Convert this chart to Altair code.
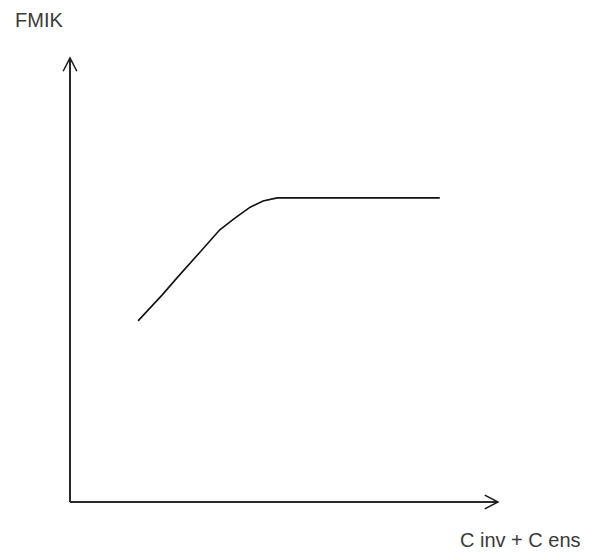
import altair as alt
import pandas as pd

# Curve (data units, axis origin at 0,0; axes run 0..10)
curve_x = [1.59, 2.15, 2.52, 3.04, 3.50, 3.86, 4.21, 4.51, 4.84, 8.64]
curve_y = [4.08, 4.66, 5.07, 5.63, 6.13, 6.40, 6.64, 6.78, 6.85, 6.85]

# Axis arrows
axis_x = [0, 0]
axis_y = [0, 0]
axis_x2 = [0, 10]
axis_y2 = [10, 0]
arrow_angle = [0, 90]

# Labels
label_text = ["FMIK", "C inv + C ens"]
label_x = [-1.285, 10.52]
label_y = [10.83, -0.88]
label_align = ["left", "center"]

curve_df = pd.DataFrame({"x": curve_x, "y": curve_y})
axes_df = pd.DataFrame({"x": axis_x, "y": axis_y, "x2": axis_x2, "y2": axis_y2,
                        "angle": arrow_angle})
lab_df = pd.DataFrame({"t": label_text, "x": label_x, "y": label_y, "a": label_align})

xs = alt.Scale(domain=[0, 10], nice=False, zero=False)
ys = alt.Scale(domain=[0, 10], nice=False, zero=False)

axes = alt.Chart(axes_df).mark_rule(color="#2a2a2a", strokeWidth=2).encode(
    x=alt.X("x:Q", scale=xs, axis=None),
    y=alt.Y("y:Q", scale=ys, axis=None),
    x2="x2:Q",
    y2="y2:Q",
)

arrows = alt.Chart(axes_df).mark_point(
    shape="M-0.52,1L0,0L0.52,1", size=700, filled=False,
    color="#1a1a1a", strokeWidth=1.5, opacity=1
).encode(
    x=alt.X("x2:Q", scale=xs, axis=None),
    y=alt.Y("y2:Q", scale=ys, axis=None),
    angle=alt.Angle("angle:Q", scale=None),
)

curve = alt.Chart(curve_df).mark_line(color="#111111", strokeWidth=1.6).encode(
    x=alt.X("x:Q", scale=xs, axis=None),
    y=alt.Y("y:Q", scale=ys, axis=None),
)

labels_left = alt.Chart(lab_df[lab_df.a == "left"]).mark_text(
    align="left", baseline="middle", font="Liberation Sans", fontSize=20,
    color="#3a3a3a"
).encode(
    x=alt.X("x:Q", scale=xs, axis=None),
    y=alt.Y("y:Q", scale=ys, axis=None),
    text="t:N",
)

labels_center = alt.Chart(lab_df[lab_df.a == "center"]).mark_text(
    align="center", baseline="middle", font="Liberation Sans", fontSize=20,
    color="#3a3a3a"
).encode(
    x=alt.X("x:Q", scale=xs, axis=None),
    y=alt.Y("y:Q", scale=ys, axis=None),
    text="t:N",
)

chart = alt.layer(axes, curve, arrows, labels_left, labels_center).properties(
    width=428,
    height=444,
    padding={"left": 62, "top": 50, "right": 86, "bottom": 50},
    autosize=alt.AutoSizeParams(type="none"),
    background="white",
).configure_view(strokeWidth=0)

chart.save("out.html", embed_options={"renderer": "svg", "actions": False})
